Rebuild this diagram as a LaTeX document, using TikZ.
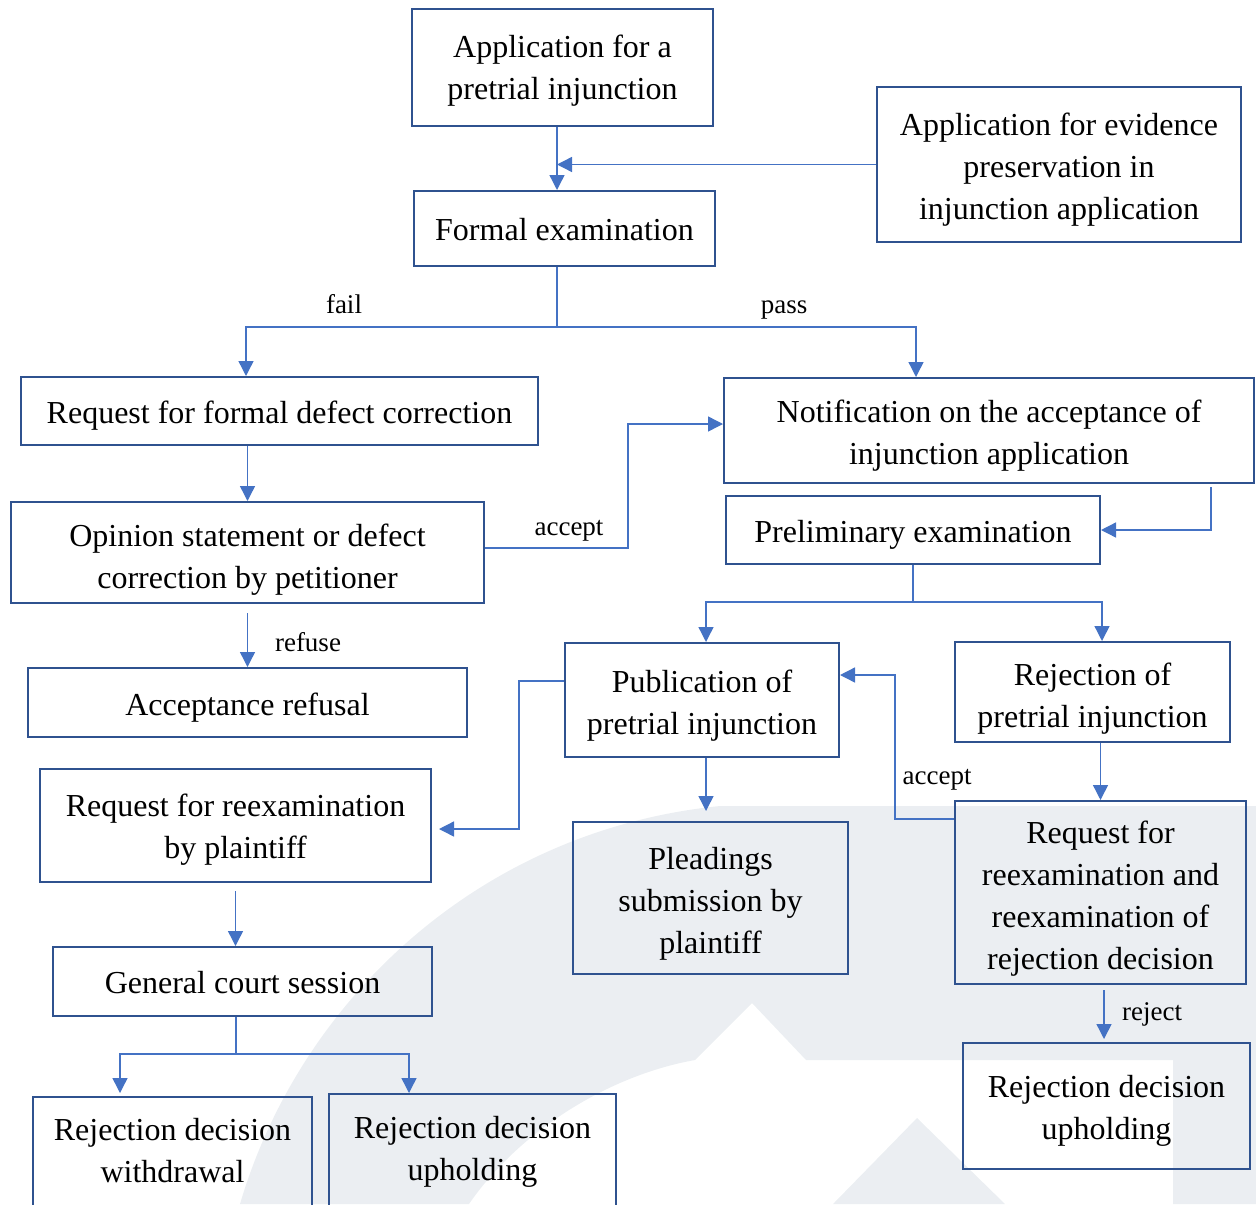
\documentclass[tikz,border=0pt]{standalone}
\usepackage{fontspec}
\setmainfont{Liberation Serif}
\usetikzlibrary{arrows.meta}
\definecolor{boxc}{RGB}{47,82,143}
\definecolor{arrc}{RGB}{68,114,196}
\definecolor{wm}{RGB}{235,238,242}
\newcommand\mybox[6]{%
  \node[box, minimum width=#2, minimum height=#3] (#1) at (#4) {};
  \node[btext, yshift=#5] (#1t) at (#1.center) {#6};}
\begin{document}
\begin{tikzpicture}[x=0.5pt,y=-0.5pt,
  box/.style={draw=boxc, line width=1pt, inner sep=0pt},
  btext/.style={align=center, inner sep=0pt, text=black, font=\fontsize{16}{21}\selectfont},
  conn/.style={draw=arrc, line width=0.7pt},
  arr/.style={conn, -{Triangle[length=7.5pt,width=7.5pt]}},
  lbl/.style={font=\fontsize{13.5}{16}\selectfont, inner sep=0pt, text=black}
]
\useasboundingbox (0,0) rectangle (1256,1204);
\clip (0,0) rectangle (1256,1204);

% watermark
\fill[wm] (240,1204) .. controls (300,1000) and (480,830) .. (720,806)
  -- (1256,806) -- (1256,1204) -- (1173,1204) -- (1173,1060) -- (806,1060)
  -- (752,1003) -- (695,1060) .. controls (610,1075) and (520,1130) .. (469,1204) -- cycle;
\fill[wm] (833,1204) -- (917,1118) -- (1005,1204) -- cycle;

% nodes
\mybox{A}{150.5pt}{58.5pt}{562.5,67.5}{-1.5pt}{Application for a\\pretrial injunction}
\mybox{E}{182pt}{77.5pt}{1059,164.5}{-2.5pt}{Application for evidence\\preservation in\\injunction application}
\mybox{F}{150.5pt}{37.5pt}{564.5,228.5}{-0.5pt}{Formal examination}
\mybox{R}{258.5pt}{34pt}{279.5,411}{-2.5pt}{Request for formal defect correction}
\mybox{N}{265pt}{52.5pt}{989,430.5}{-2.5pt}{Notification on the acceptance of\\injunction application}
\mybox{O}{236.5pt}{50.5pt}{247.5,552.5}{-3.5pt}{Opinion statement or defect\\correction by petitioner}
\mybox{P}{187pt}{34pt}{913,530}{-2.5pt}{Preliminary examination}
\mybox{AR}{219.5pt}{34.5pt}{247.5,702.5}{-2.5pt}{Acceptance refusal}
\mybox{Pub}{137pt}{57pt}{702,700}{-3pt}{Publication of\\pretrial injunction}
\mybox{Rej}{137.5pt}{50pt}{1092.5,692}{-3.5pt}{Rejection of\\pretrial injunction}
\mybox{RRP}{195.5pt}{56.5pt}{235.5,825.5}{-2pt}{Request for reexamination\\by plaintiff}
\mybox{Ple}{137.5pt}{76pt}{710.5,898}{-3pt}{Pleadings\\submission by\\plaintiff}
\mybox{RRR}{145.5pt}{91.5pt}{1100.5,892.5}{-3pt}{Request for\\reexamination and\\reexamination of\\rejection decision}
\mybox{GCS}{189.5pt}{34.5pt}{242.5,981.5}{-0.5pt}{General court session}
\mybox{RDW}{139.5pt}{57pt}{172.5,1154}{1.5pt}{Rejection decision\\withdrawal}
\mybox{RDU1}{143.5pt}{57pt}{472.5,1151}{-0.5pt}{Rejection decision\\upholding}
\mybox{RDU2}{143.5pt}{63pt}{1106.5,1106}{-2.5pt}{Rejection decision\\upholding}

% labels
\node[lbl] (lfail) at (344,304) {fail};
\node[lbl] (lpass) at (784,310) {pass};
\node[lbl] (lacc1) at (569,531) {accept};
\node[lbl] (lref) at (308,642) {refuse};
\node[lbl] (lacc2) at (937,780) {accept};
\node[lbl] (lrej) at (1152,1014) {reject};

% connectors
\coordinate (ax) at ([xshift=-3.75pt]F.north);
\draw[arr] (A.south -| ax) -- (ax);
\draw[arr] (E.west) -- (E.west -| ax);

\coordinate (fs) at ([yshift=-30pt]F.south -| ax);
\draw[conn] (F.south -| ax) -- (fs);
\draw[arr] (fs) -| ([xshift=-16.75pt]R.north);
\draw[arr] (fs) -| ([xshift=-36.5pt]N.north);

\draw[arr] (R.south -| O.north) -- (O.north);
\draw[arr] ([yshift=2.25pt]O.east) -- ++(71.5pt,0pt) |- ([yshift=3.25pt]N.west);
\draw[arr] ([yshift=-4.5pt]O.south) -- (AR.north);

\draw[arr] ([xshift=111pt,yshift=-1.5pt]N.south) |- (P.east);

\coordinate (ps) at ([yshift=-18.5pt]P.south);
\draw[conn] (P.south) -- (ps);
\draw[arr] (ps) -| ([xshift=2pt]Pub.north);
\draw[arr] (ps) -| ([xshift=4.75pt]Rej.north);

\draw[arr] ([yshift=9.5pt]Pub.west) -- ++(-22.5pt,0pt) |- ([xshift=3.5pt,yshift=-1.75pt]RRP.east);
\draw[arr] ([xshift=2pt]Pub.south) -- ([xshift=-2.25pt,yshift=5pt]Ple.north);
\draw[arr] (Rej.south -| RRR.north) -- (RRR.north);
\draw[arr] ([yshift=36.75pt]RRR.west) -- ++(-29.5pt,0pt) |- ([yshift=12.5pt]Pub.east);
\draw[arr] ([xshift=1.75pt,yshift=-2.5pt]RRR.south) -- ([xshift=-1.25pt,yshift=1.5pt]RDU2.north);

\draw[arr] ([yshift=-4pt]RRP.south) -- ([xshift=-3.5pt]GCS.north);
\coordinate (gs) at ([xshift=-3.25pt,yshift=-18.5pt]GCS.south);
\draw[conn] ([xshift=-3.25pt]GCS.south) -- (gs);
\draw[arr] (gs) -| ([xshift=-26.25pt,yshift=1.5pt]RDW.north);
\draw[arr] (gs) -| ([xshift=-31.75pt]RDU1.north);
\end{tikzpicture}
\end{document}
